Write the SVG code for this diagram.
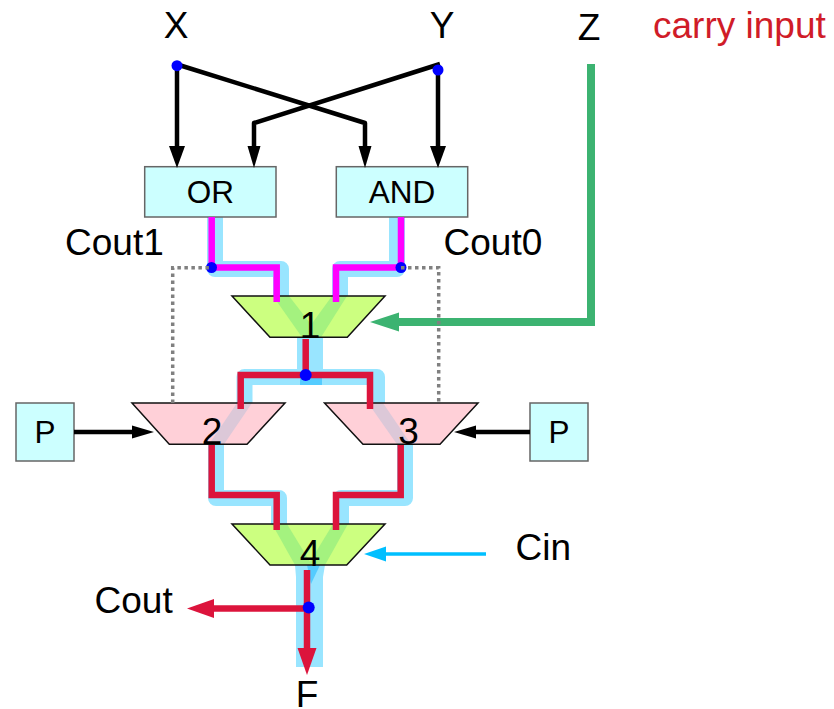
<svg xmlns="http://www.w3.org/2000/svg" width="834" height="709" viewBox="0 0 834 709">
<defs>
<marker id="hb" markerUnits="userSpaceOnUse" markerWidth="24" markerHeight="16" refX="1" refY="8" orient="auto"><path d="M0 0L22 8L0 16Z" fill="#000"/></marker>
<marker id="hs" markerUnits="userSpaceOnUse" markerWidth="22" markerHeight="14" refX="1" refY="7" orient="auto"><path d="M0 0.5L22 7L0 13.5Z" fill="#000"/></marker>
<marker id="hg" markerUnits="userSpaceOnUse" markerWidth="30" markerHeight="20" refX="1" refY="10" orient="auto"><path d="M0 0.5L29 10L0 19.5Z" fill="#3cb371"/></marker>
<marker id="hr" markerUnits="userSpaceOnUse" markerWidth="28" markerHeight="20" refX="1" refY="10" orient="auto"><path d="M0 0.5L27 10L0 19.5Z" fill="#dc143c"/></marker>
<marker id="hc" markerUnits="userSpaceOnUse" markerWidth="22" markerHeight="16" refX="1" refY="8" orient="auto"><path d="M0 0.5L22 8L0 15.5Z" fill="#00bfff"/></marker>
</defs>
<style>
text{font-family:"Liberation Sans",Arial,sans-serif;fill:#000}
.l{font-size:37px}
.b{font-size:31.5px;text-anchor:middle}
.m{font-size:37px;text-anchor:middle}
.box{fill:#ccffff;stroke:#666;stroke-width:1.5}
.g{fill:#ccff80}
.p{fill:#ffd0d8}
.out{fill:none;stroke:#111;stroke-width:1.5}
.halo{fill:none;stroke:#99e5ff;stroke-width:16;stroke-linejoin:round}
.gb{fill:#a4f27f}.pb{fill:#dcc8d8}
.k{fill:none;stroke:#000;stroke-width:4.5}
.mg{fill:none;stroke:#ff00ff;stroke-width:6.5}
.rd{fill:none;stroke:#dc143c;stroke-width:6.5}
.dot{fill:#0000ff}
</style>
<g id="halos">
<path class="halo" d="M215 217V269H281V300"/>
<path class="halo" d="M397 217V269H340V300"/>
<path class="halo" d="M244.5 403V377H377V403"/>
<path class="halo" d="M216 444V498H279V528"/>
<path class="halo" d="M405 444V498H341V528"/>
<rect x="297" y="337" width="26" height="33" fill="#99e5ff"/>
<rect x="300" y="377" width="22" height="8" fill="#55ccff"/>
<path d="M295 565H325L323 577V667H296V577Z" fill="#99e5ff"/>
<path d="M307 565H320L311 584Z" fill="#55ccff"/>
</g>
<g id="node-or"><rect class="box" x="144.7" y="166.7" width="131.3" height="50.3"/><text class="b" x="210.3" y="203">OR</text></g>
<g id="node-and"><rect class="box" x="336.3" y="166.7" width="131.4" height="50.3"/><text class="b" x="402" y="203">AND</text></g>
<g id="node-p-left"><rect class="box" x="16" y="403" width="58" height="58"/><text class="b" x="45" y="443">P</text></g>
<g id="node-p-right"><rect class="box" x="530" y="403" width="58" height="58"/><text class="b" x="559" y="443">P</text></g>
<g id="mux-1">
<path class="g" d="M232 296H385L347.3 337.3H270Z"/>
<path class="gb" d="M273 296H289L321 337.3H302Z"/>
<path class="gb" d="M332 296H347L321 337.3H302Z"/>
<path class="out" d="M232 296H385L347.3 337.3H270Z"/>
<text class="m" x="310" y="338">1</text>
</g>
<g id="mux-2">
<path class="p" d="M132 403H285L247 444.3H169.3Z"/>
<path class="pb" d="M237 403H252L224 444.3H209Z"/>
<path class="out" d="M132 403H285L247 444.3H169.3Z"/>
<text class="m" x="212" y="444">2</text>
</g>
<g id="mux-3">
<path class="p" d="M324.5 403H478L440 444.3H363Z"/>
<path class="pb" d="M368 403H383L411 444.3H397Z"/>
<path class="out" d="M324.5 403H478L440 444.3H363Z"/>
<text class="m" x="408.5" y="444">3</text>
</g>
<g id="mux-4">
<path class="g" d="M232 524H385L346.7 565H270Z"/>
<path class="gb" d="M272 524H287L312 565H295Z"/>
<path class="gb" d="M333 524H348L325 565H308Z"/>
<path class="out" d="M232 524H385L346.7 565H270Z"/>
<text class="m" x="310" y="566">4</text>
</g>
<g id="connectors">
<path class="k" d="M177 66V147" marker-end="url(#hb)"/>
<path class="k" d="M438 70V147" marker-end="url(#hb)"/>
<path class="k" d="M179 65L365 123V147" marker-end="url(#hs)" stroke-linejoin="round"/>
<path class="k" d="M440 64L254 123V147" marker-end="url(#hs)" stroke-linejoin="round"/>
<path class="mg" d="M211.7 217V267.5H276.7V302"/>
<path class="mg" d="M401 217V267.5H336V302"/>
<path class="rd" d="M305.7 339V375"/>
<path class="rd" d="M240.7 409V375H370V409"/>
<path class="rd" d="M211.7 445V495H276.7V530"/>
<path class="rd" d="M400.7 445V495H336V530"/>
<path class="rd" d="M307 570V649" marker-end="url(#hr)"/>
<path class="rd" d="M308 608.5H213" marker-end="url(#hr)"/>
<path d="M591 64V322H398" fill="none" stroke="#3cb371" stroke-width="8" marker-end="url(#hg)"/>
<path d="M486 554H385" fill="none" stroke="#00bfff" stroke-width="3.5" marker-end="url(#hc)"/>
<path class="k" d="M74 432H133" marker-end="url(#hs)"/>
<path class="k" d="M530 432H475" marker-end="url(#hs)"/>
<circle class="dot" cx="177" cy="65.7" r="5.5"/>
<circle class="dot" cx="438" cy="70" r="5.5"/>
<circle class="dot" cx="211.5" cy="267.5" r="5.5"/>
<circle class="dot" cx="401" cy="267.5" r="5.5"/>
<circle class="dot" cx="305.7" cy="375" r="6"/>
<circle class="dot" cx="308.7" cy="607.5" r="6"/>
<path d="M172.7 403V267.7H211M401 267.7H438.7V403" fill="none" stroke="#808080" stroke-width="3.5" stroke-dasharray="3.5 3.5"/>
</g>
<g id="labels">
<text class="m" x="176" y="38">X</text>
<text class="m" x="442" y="38">Y</text>
<text class="m" x="589" y="40">Z</text>
<text class="l" x="653" y="38" style="fill:#d01c28">carry input</text>
<text class="l" x="65" y="255">Cout1</text>
<text class="l" x="443.5" y="255">Cout0</text>
<text class="l" x="94.5" y="613">Cout</text>
<text class="l" x="515.5" y="560">Cin</text>
<text class="m" x="307" y="707">F</text>
</g>
</svg>
